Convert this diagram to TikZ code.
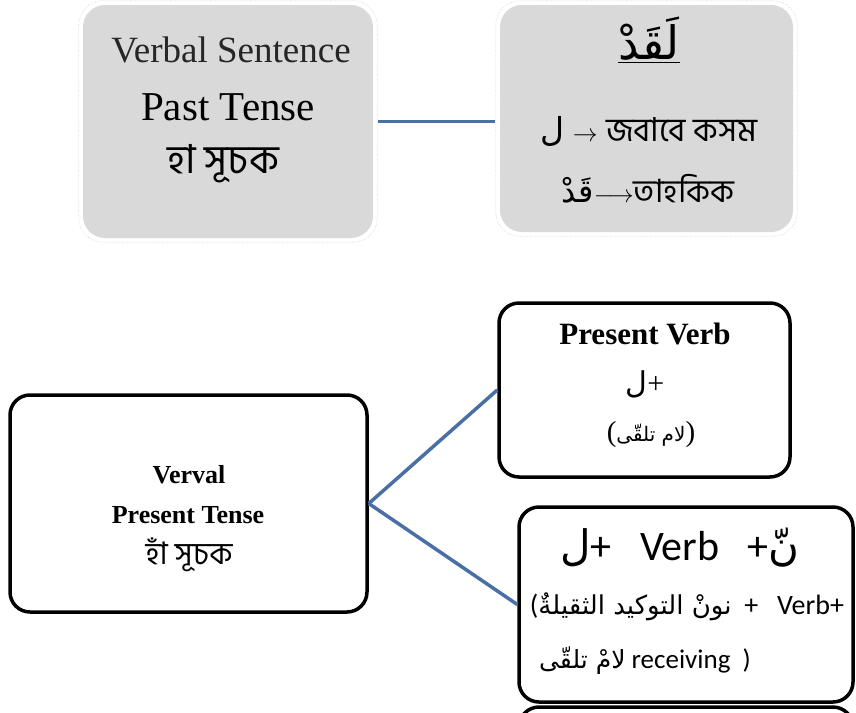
\documentclass[tikz,border=0pt]{standalone}
\usepackage{fontspec}
\setmainfont{Liberation Serif}
\newfontfamily\bnfont[Script=Bengali]{Hind Siliguri}
\newfontfamily\arfont[Script=Arabic]{DejaVu Sans}
\newfontfamily\calfont{Carlito}
\TeXXeTstate=1
\definecolor{boxgray}{HTML}{D9D9D9}
\definecolor{linkblue}{HTML}{4A6FA5}
\newcommand{\fs}[1]{\fontsize{#1}{#1}\selectfont}
\begin{document}
\begin{tikzpicture}[x=1pt,y=-1pt,
  graybox/.style={fill=boxgray, draw=none, rounded corners=22pt, inner sep=0pt},
  framebox/.style={draw=black!14, dash pattern=on 1pt off 1.5pt, line width=0.7pt, rounded corners=24pt},
  linebox/.style={fill=white, draw=black, line width=3.5pt, rounded corners=20pt, inner sep=0pt},
  link/.style={draw=linkblue, line width=3.5pt},
  txt/.style={inner sep=0pt, anchor=center}]
\useasboundingbox (0,0) rectangle (856,712);

% past tense pair
\node[graybox, minimum width=290pt, minimum height=233pt] (A) at (228,121.5) {};
\node[graybox, minimum width=293pt, minimum height=227pt] (B) at (646.5,118.5) {};
\draw[framebox] ([shift={(-4,-4)}]A.north west) rectangle ([shift={(4,4)}]A.south east);
\draw[framebox] ([shift={(-4,-4)}]B.north west) rectangle ([shift={(4,4)}]B.south east);

\node[txt, font=\fs{37}, text=black!85] (a1) at (231,50) {Verbal Sentence};
\node[txt, font=\fs{41}] (a2) at (228,107) {Past Tense};
\node[txt, font=\bnfont\fs{40}] (a3) at (223,164) {হা সূচক};

\node[txt, font=\arfont\fs{46}] (b1) at (649,40) {\underline{\beginR لَقَدْ\endR}};
\node[txt, font=\fs{33}] (b2) at (649,131) {{\arfont ل} $\rightarrow$ {\bnfont জবাবে কসম}};
\node[txt, font=\fs{32}] (b3) at (648,189) {{\arfont\beginR قَدْ\endR}$\longrightarrow${\bnfont তাহকিক}};

\draw[link, shorten <=5pt, shorten >=5pt] (A.east) -- (A.east -| B.west);

% present tense tree
\node[linebox, minimum width=357pt, minimum height=217pt] (C) at (188.5,503.5) {};
\node[linebox, minimum width=291pt, minimum height=174pt] (D) at (644.5,390) {};
\node[linebox, minimum width=334pt, minimum height=195pt] (E) at (686,604.5) {};
\node[linebox, minimum width=334pt, minimum height=195pt] (F) at (686,804.5) {};

\node[txt, font=\bfseries\fs{26}] (c1) at (189,475) {Verval};
\node[txt, font=\bfseries\fs{26}] (c2) at (188,515) {Present Tense};
\node[txt, font=\bnfont\fs{31}] (c3) at (189,555) {হাঁ সূচক};

\node[txt, font=\bfseries\fs{31}] (d1) at (645,334) {Present Verb};
\node[txt, font=\fs{30}] (d2) at (645,384) {{\arfont ل}+};
\node[txt, font=\fs{29}] (d3) at (651,435) {({\arfont\fs{20}\beginR لام تلقّى\endR})};

\node[txt, font=\calfont\fs{42}] (e1) at (680,548) {{\arfont ل}+\ \ \ Verb\ \ \ +{\arfont نّ}};
\node[txt, font=\calfont\fs{28}] (e2) at (687,607) {({\arfont\fs{26}\beginR نونْ التوكيد الثقيلةٌ\endR}\ \ +\ \ \ Verb+};
\node[txt, font=\calfont\fs{27}] (e3) at (645,661) {{\arfont\fs{25}\beginR لامْ تلقّى\endR}\ receiving\ \ )};

\draw[link] (C.east) -- (D.west);
\draw[link] (C.east) -- (E.west);
\end{tikzpicture}
\end{document}
